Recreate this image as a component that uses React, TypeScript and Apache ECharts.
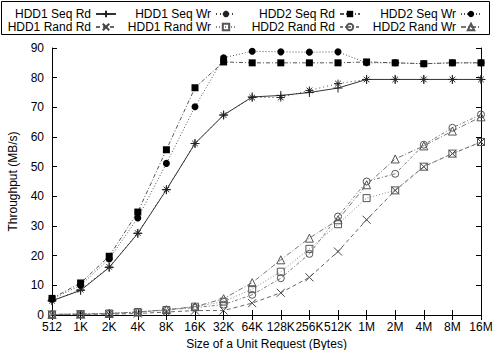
import React, { useEffect, useRef } from "react";
import * as echarts from "echarts";

const categories = ["512", "1K", "2K", "4K", "8K", "16K", "32K", "64K", "128K", "256K", "512K", "1M", "2M", "4M", "8M", "16M"];

const hdd1SeqRd = [4.8, 8.3, 16, 27.5, 42.2, 57.8, 67.4, 73.5, 74, 75, 76.5, 79.4, 79.4, 79.4, 79.4, 79.4];
const hdd1SeqWr = [4.8, 8.5, 16.2, 27.6, 42.3, 57.8, 67.4, 73.3, 73.3, 75.7, 78, 79.4, 79.4, 79.4, 79.4, 79.4];
const hdd2SeqRd = [5.6, 10.8, 19.8, 34.7, 55.7, 76.6, 85.3, 85, 85, 85, 85, 85.3, 85, 84.7, 85, 85];
const hdd2SeqWr = [5.4, 10, 18.9, 32.7, 51.1, 70.2, 86.7, 88.9, 88.7, 88.6, 88.7, 85, 85, 84.7, 85, 85];
const hdd1RandRd = [0.2, 0.2, 0.3, 0.5, 1.0, 1.5, 1.5, 4.0, 7.5, 12.7, 21.4, 32.1, 42, 50, 54.4, 58.3];
const hdd1RandWr = [0.2, 0.3, 0.5, 1.0, 1.7, 2.8, 4.5, 8.7, 14.6, 22.3, 30.6, 39.4, 42, 50, 54.4, 58.3];
const hdd2RandRd = [0.2, 0.3, 0.5, 1.0, 1.7, 2.5, 3.5, 6.8, 12.4, 20.6, 33.2, 45, 47.6, 57.4, 63.1, 67.6];
const hdd2RandWr = [0.2, 0.3, 0.5, 1.0, 1.8, 2.8, 5.5, 10.9, 18.6, 25.9, 32.1, 43.9, 52.6, 57, 62, 66.8];

const yMin = 0;
const yMax = 90;
const yStep = 10;

const FONT = "Liberation Sans";

const P_PLUS = "path://M0 5L10 5M5 0L5 10";
const P_STAR = "path://M0 5L10 5M5 0L5 10M1.5 1.5L8.5 8.5M1.5 8.5L8.5 1.5";
const P_CROSS = "path://M0 0L10 10M0 10L10 0";
const P_SQUARE = "path://M0 0L10 0L10 10L0 10Z";
const P_CIRCLE = "path://M0 5A5 5 0 1 1 10 5A5 5 0 1 1 0 5Z";
const P_TRI = "path://M5 0L10 9L0 9Z";

type Def = {
  name: string;
  data: number[];
  symbol: string;
  size: number;
  filled: boolean;
  dash: any;
  lineColor: string;
  symColor: string;
  legendRight: number;
  legendTop: number;
};

const defs: Def[] = [
  { name: "HDD1 Seq Rd", data: hdd1SeqRd, symbol: P_PLUS, size: 9, filled: false, dash: "solid", lineColor: "#333", symColor: "#222", legendRight: 383, legendTop: 8 },
  { name: "HDD1 Seq Wr", data: hdd1SeqWr, symbol: P_STAR, size: 8, filled: false, dash: [1, 3], lineColor: "#444", symColor: "#222", legendRight: 263, legendTop: 8 },
  { name: "HDD2 Seq Rd", data: hdd2SeqRd, symbol: "rect", size: 7, filled: true, dash: [4, 2, 1, 2], lineColor: "#555", symColor: "#000", legendRight: 139, legendTop: 8 },
  { name: "HDD2 Seq Wr", data: hdd2SeqWr, symbol: "circle", size: 7, filled: true, dash: [1, 2], lineColor: "#555", symColor: "#000", legendRight: 18, legendTop: 8 },
  { name: "HDD1 Rand Rd", data: hdd1RandRd, symbol: P_CROSS, size: 8, filled: false, dash: [4, 3], lineColor: "#666", symColor: "#444", legendRight: 383, legendTop: 21 },
  { name: "HDD1 Rand Wr", data: hdd1RandWr, symbol: P_SQUARE, size: 7, filled: false, dash: [1, 2], lineColor: "#888", symColor: "#555", legendRight: 263, legendTop: 21 },
  { name: "HDD2 Rand Rd", data: hdd2RandRd, symbol: P_CIRCLE, size: 7, filled: false, dash: [3, 2, 1, 2], lineColor: "#777", symColor: "#555", legendRight: 139, legendTop: 21 },
  { name: "HDD2 Rand Wr", data: hdd2RandWr, symbol: P_TRI, size: 8, filled: false, dash: [5, 2, 1, 2], lineColor: "#777", symColor: "#555", legendRight: 18, legendTop: 21 },
];

export default function App() {
  const ref = useRef<HTMLDivElement>(null);

  useEffect(() => {
    document.body.style.margin = "0";
    if (!ref.current) return;
    const chart = echarts.init(ref.current, undefined, { renderer: "svg" });

    const series = defs.map((d) => ({
      name: d.name,
      type: "line",
      data: d.data,
      xAxisIndex: 0,
      yAxisIndex: 0,
      symbol: d.symbol,
      symbolSize: d.size,
      showSymbol: true,
      lineStyle: { color: d.lineColor, width: 1, type: d.dash },
      itemStyle: d.filled
        ? { color: d.symColor, borderWidth: 0 }
        : { color: "none", borderColor: d.symColor, borderWidth: 1 },
      emphasis: { disabled: true },
    }));

    const legends = defs.map((d) => ({
      data: [d.name],
      right: d.legendRight,
      top: d.legendTop,
      align: "right",
      orient: "horizontal",
      padding: 0,
      itemWidth: 20,
      itemHeight: 8,
      selectedMode: false,
      textStyle: { color: "#000", fontSize: 12, fontFamily: FONT, lineHeight: 10 },
    }));

    const axisLine = { show: true, lineStyle: { color: "#000", width: 1 } };
    const tick = { show: true, inside: true, length: 5, lineStyle: { color: "#000", width: 1 } };

    chart.setOption({
      animation: false,
      textStyle: { fontFamily: FONT },
      grid: { left: 52, right: 19, top: 48, bottom: 35, show: false, containLabel: false, outerBoundsMode: "none" },
      legend: legends,
      graphic: [
        {
          type: "rect",
          shape: { x: 1.5, y: 1.5, width: 488, height: 33 },
          style: { fill: "none", stroke: "#000", lineWidth: 1 },
          z: 0,
        },
      ],
      xAxis: [
        {
          type: "category",
          data: categories,
          boundaryGap: false,
          position: "bottom",
          axisLine,
          axisTick: { ...tick, interval: 0 },
          axisLabel: { color: "#000", fontSize: 12, fontFamily: FONT, margin: 6, interval: 0 },
          splitLine: { show: false },
          name: "Size of a Unit Request (Bytes)",
          nameLocation: "middle",
          nameGap: 21,
          nameTextStyle: { color: "#000", fontSize: 12, fontFamily: FONT },
        },
        {
          type: "category",
          data: categories,
          boundaryGap: false,
          position: "top",
          axisLine,
          axisTick: { ...tick, interval: 0 },
          axisLabel: { show: false },
          splitLine: { show: false },
        },
      ],
      yAxis: [
        {
          type: "value",
          min: yMin,
          max: yMax,
          interval: yStep,
          position: "left",
          axisLine,
          axisTick: tick,
          axisLabel: { color: "#000", fontSize: 12, fontFamily: FONT, margin: 8 },
          splitLine: { show: false },
          name: "Throughput (MB/s)",
          nameLocation: "middle",
          nameRotate: 90,
          nameGap: 33,
          nameTextStyle: { color: "#000", fontSize: 12, fontFamily: FONT },
        },
        {
          type: "value",
          min: yMin,
          max: yMax,
          interval: yStep,
          position: "right",
          axisLine,
          axisTick: tick,
          axisLabel: { show: false },
          splitLine: { show: false },
        },
      ],
      series,
    });

    return () => chart.dispose();
  }, []);

  return <div ref={ref} style={{ width: 500, height: 350 }} />;
}
